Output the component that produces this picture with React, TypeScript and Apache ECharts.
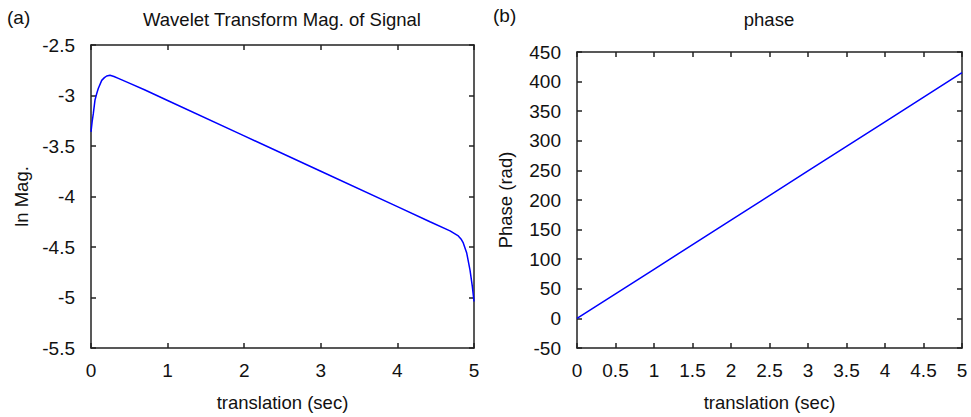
import React, { useEffect, useRef } from "react";
import * as echarts from "echarts";

// Panel (a): wavelet transform log-magnitude vs translation
const transA = [0, 0.015, 0.03, 0.052, 0.075, 0.095, 0.14, 0.175, 0.205, 0.248, 0.3, 0.357, 0.5, 0.705, 1, 2, 3, 4, 4.425, 4.687, 4.795, 4.83, 4.86, 4.905, 4.948, 4.978, 5];
const lnMag = [-3.36, -3.26, -3.18, -3.045, -2.98, -2.93, -2.85, -2.823, -2.807, -2.8, -2.812, -2.83, -2.877, -2.946, -3.05, -3.4, -3.75, -4.1, -4.25, -4.34, -4.39, -4.42, -4.46, -4.56, -4.73, -4.89, -5.04];

// Panel (b): phase vs translation
const transB = [0, 1, 2, 3, 4, 5];
const phase = [0, 83, 166, 249, 332, 415];

const FONT = "Liberation Sans, Arial, sans-serif";
const AX = "#222";
const FS = 19;

function boxAxes(gridIndex: number, min: number, max: number, interval: number, isX: boolean, name: string, nameGap: number) {
  const main = {
    type: "value",
    gridIndex,
    min,
    max,
    interval,
    position: isX ? "bottom" : "left",
    name,
    nameLocation: "middle",
    nameGap,
    nameTextStyle: { color: "#111", fontSize: 18.5, fontFamily: FONT },
    axisLine: { show: true, onZero: false, lineStyle: { color: AX, width: 1.5 } },
    axisTick: { show: true, inside: true, length: 5, lineStyle: { color: AX, width: 1.5 } },
    axisLabel: { color: "#111", fontSize: FS, fontFamily: FONT, margin: isX ? 13 : 16 },
    splitLine: { show: false },
  };
  const opp = {
    type: "value",
    gridIndex,
    min,
    max,
    interval,
    position: isX ? "top" : "right",
    axisLine: { show: true, onZero: false, lineStyle: { color: AX, width: 1.5 } },
    axisTick: { show: true, inside: true, length: 5, lineStyle: { color: AX, width: 1.5 } },
    axisLabel: { show: false },
    splitLine: { show: false },
  };
  return [main, opp];
}

export default function App() {
  const ref = useRef<HTMLDivElement>(null);
  useEffect(() => {
    if (!ref.current) return;
    const chart = echarts.init(ref.current, null, { renderer: "svg" });
    const xA = boxAxes(0, 0, 5, 1, true, "translation (sec)", 45);
    const yA = boxAxes(0, -5.5, -2.5, 0.5, false, "ln Mag.", 60);
    const xB = boxAxes(1, 0, 5, 0.5, true, "translation (sec)", 45);
    const yB = boxAxes(1, -50, 450, 50, false, "Phase (rad)", 62);
    chart.setOption({
      animation: false,
      backgroundColor: "#fff",
      grid: [
        { left: 91, top: 45, width: 383, height: 303 },
        { left: 577, top: 52, width: 385, height: 296 },
      ],
      xAxis: [...xA, ...xB],
      yAxis: [...yA, ...yB],
      graphic: [
        { type: "text", left: 7, top: 8, style: { text: "(a)", fontSize: FS, fontFamily: FONT, fill: "#111" } },
        { type: "text", left: 493, top: 6, style: { text: "(b)", fontSize: FS, fontFamily: FONT, fill: "#111" } },
        { type: "text", x: 282, y: 19, style: { text: "Wavelet Transform Mag. of Signal", fontSize: 18.5, fontFamily: FONT, fill: "#111", align: "center", verticalAlign: "middle" } },
        { type: "text", x: 769, y: 19, style: { text: "phase", fontSize: 18.5, fontFamily: FONT, fill: "#111", align: "center", verticalAlign: "middle" } },
      ],
      series: [
        {
          type: "line",
          xAxisIndex: 0,
          yAxisIndex: 0,
          data: transA.map((t, i) => [t, lnMag[i]]),
          showSymbol: false,
          lineStyle: { color: "#0000ff", width: 1.5 },
        },
        {
          type: "line",
          xAxisIndex: 2,
          yAxisIndex: 2,
          data: transB.map((t, i) => [t, phase[i]]),
          showSymbol: false,
          lineStyle: { color: "#0000ff", width: 1.5 },
        },
      ],
    });
    return () => chart.dispose();
  }, []);
  return <div ref={ref} style={{ position: "fixed", left: 0, top: 0, width: 971, height: 417 }} />;
}
